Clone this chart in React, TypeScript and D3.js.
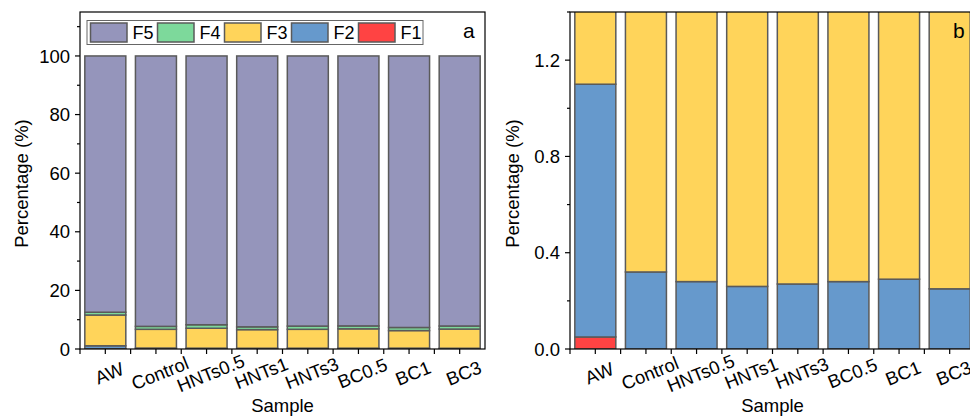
import React from "react";
import * as d3 from "d3";

// Fraction distribution (%) per sample, F1..F5
const samples = ["AW", "Control", "HNTs0.5", "HNTs1", "HNTs3", "BC0.5", "BC1", "BC3"];
const F1 = [0.05, 0, 0, 0, 0, 0, 0, 0];
const F2 = [1.05, 0.32, 0.28, 0.26, 0.27, 0.28, 0.29, 0.25];
const F3 = [10.5, 6.4, 6.8, 6.35, 6.45, 6.6, 6.0, 6.55];
const F4 = [0.95, 1.0, 1.2, 0.95, 1.1, 1.0, 1.05, 1.05];
const F5 = [87.45, 92.28, 91.72, 92.44, 92.18, 92.12, 92.66, 92.15];

const seriesKeys = ["F1", "F2", "F3", "F4", "F5"];
const legendOrder = ["F5", "F4", "F3", "F2", "F1"];
const colors: Record<string, string> = {
  F1: "#FF4343",
  F2: "#6699CC",
  F3: "#FFD45A",
  F4: "#7DD99B",
  F5: "#9595BB",
};

const leftTicks = [0, 20, 40, 60, 80, 100];
const leftMinor = [10, 30, 50, 70, 90, 110];
const rightTicks = [0, 0.4, 0.8, 1.2];
const rightMinor = [0.2, 0.6, 1.0, 1.4];

const W = 970;
const H = 418;
const FONT = "'Liberation Sans', Arial, sans-serif";
const STROKE = "#5a5a5a";

const table = samples.map((s, i) => ({
  sample: s,
  F1: F1[i],
  F2: F2[i],
  F3: F3[i],
  F4: F4[i],
  F5: F5[i],
}));
const stacked = d3.stack<any>().keys(seriesKeys)(table);

type PanelProps = {
  x0: number;
  x1: number;
  yMax: number;
  ticks: number[];
  minor: number[];
  fmt: (v: number) => string;
  tag: string;
  clipId: string;
  titleX: number;
  legend?: boolean;
};

function Panel({ x0, x1, yMax, ticks, minor, fmt, tag, clipId, titleX, legend }: PanelProps) {
  const top = 12;
  const bottom = 349;
  const x = d3.scaleBand<string>().domain(samples).range([x0, x1]).paddingInner(0.19).paddingOuter(0.095);
  const xc = d3.scalePoint<string>().domain(samples).range([x0, x1]).padding(0.5);
  const step = (x1 - x0) / samples.length;
  const y = d3.scaleLinear().domain([0, yMax]).range([bottom, top]);
  return (
    <g>
      <defs>
        <clipPath id={clipId}>
          <rect x={x0} y={top} width={x1 - x0} height={bottom - top} />
        </clipPath>
      </defs>
      <g clipPath={`url(#${clipId})`}>
        {stacked.map((layer) => (
          <g key={layer.key}>
            {layer.map((d, i) => {
              const h = y(d[0]) - y(d[1]);
              if (d[1] - d[0] <= 0) return null;
              return (
                <rect
                  key={i}
                  x={x(samples[i])}
                  y={y(d[1])}
                  width={x.bandwidth()}
                  height={h}
                  fill={colors[layer.key]}
                  stroke={STROKE}
                  strokeWidth={1.5}
                />
              );
            })}
          </g>
        ))}
      </g>
      {/* frame */}
      <rect x={x0} y={top} width={x1 - x0} height={bottom - top} fill="none" stroke="#000" strokeWidth={1.2} />
      {/* y ticks */}
      {ticks.map((t) => (
        <g key={"yt" + t}>
          <line x1={x0 - 5} x2={x0} y1={y(t)} y2={y(t)} stroke="#000" strokeWidth={1.2} />
          <text x={x0 - 10} y={y(t)} dy="0.36em" textAnchor="end" fontSize={18.5} fontFamily={FONT} fill="#000">
            {fmt(t)}
          </text>
        </g>
      ))}
      {minor.map((t) => (
        <line key={"ym" + t} x1={x0 - 3} x2={x0} y1={y(t)} y2={y(t)} stroke="#000" strokeWidth={1.2} />
      ))}
      {/* x ticks */}
      {samples.map((s, i) => (
        <g key={"xt" + s}>
          <line x1={xc(s)} x2={xc(s)} y1={bottom} y2={bottom + 5} stroke="#000" strokeWidth={1.2} />
          <line x1={x0 + step * i} x2={x0 + step * i} y1={bottom} y2={bottom + 5} stroke="#000" strokeWidth={1.2} />
          <text
            transform={`translate(${(xc(s) as number) + 4},373) rotate(-22)`}
            textAnchor="middle"
            dy="0.36em"
            fontSize={18.5}
            fontFamily={FONT}
            fill="#000"
          >
            {s}
          </text>
        </g>
      ))}
      <text x={(x0 + x1) / 2} y={412} textAnchor="middle" fontSize={18.5} fontFamily={FONT} fill="#000">
        Sample
      </text>
      <text
        transform={`translate(${titleX},${(top + bottom) / 2 + 3}) rotate(-90)`}
        textAnchor="middle"
        fontSize={18.5}
        fontFamily={FONT}
        fill="#000"
      >
        Percentage (%)
      </text>
      <text x={x0 + 383} y={38} textAnchor="start" fontSize={21} fontFamily={FONT} fill="#000">
        {tag}
      </text>
      {legend && (
        <g>
          <rect x={87} y={20.5} width={336} height={24} fill="#fff" stroke="#666" strokeWidth={1} />
          {legendOrder.map((k, i) => (
            <g key={k} transform={`translate(${90.5 + i * 67},23)`}>
              <rect width={36.5} height={19} fill={colors[k]} stroke={STROKE} strokeWidth={1.5} />
              <text x={42} y={16} fontSize={18} fontFamily={FONT} fill="#000">
                {k}
              </text>
            </g>
          ))}
        </g>
      )}
    </g>
  );
}

export default function App() {
  return (
    <svg
      width={W}
      height={H}
      viewBox={`0 0 ${W} ${H}`}
      style={{ position: "absolute", left: 0, top: 0, background: "#fff" }}
    >
      <rect width={W} height={H} fill="#fff" />
      <Panel
        x0={80}
        x1={485}
        yMax={115}
        ticks={leftTicks}
        minor={leftMinor}
        fmt={(v) => d3.format("d")(v)}
        tag="a"
        clipId="clipA"
        titleX={28}
        legend
      />
      <Panel
        x0={570}
        x1={975}
        yMax={1.4}
        ticks={rightTicks}
        minor={rightMinor}
        fmt={(v) => d3.format(".1f")(v)}
        tag="b"
        clipId="clipB"
        titleX={519}
      />
    </svg>
  );
}
